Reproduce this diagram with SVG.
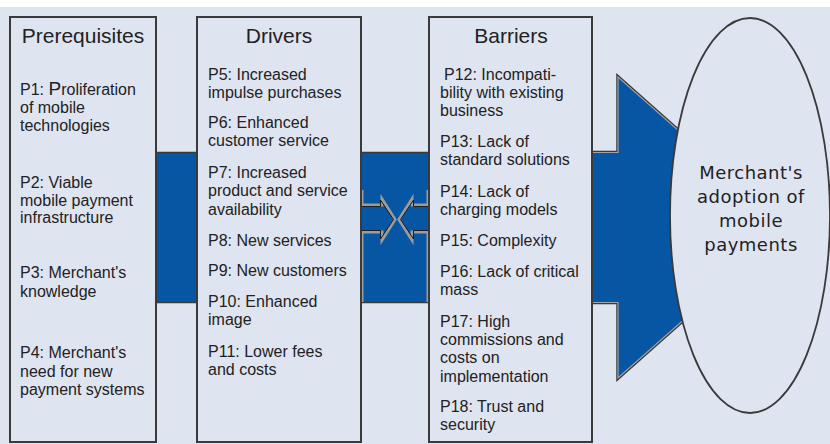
<svg xmlns="http://www.w3.org/2000/svg" width="830" height="444" viewBox="0 0 830 444">
  <style>
    .box { fill: #dfe4f1; stroke: #3a3a3a; stroke-width: 2; }
    .band { fill: #0756a3; stroke: #3a3a3a; stroke-width: 1.5; }
    .title { font-family: "Liberation Sans", Arial, sans-serif; font-size: 21px; fill: #222; text-anchor: middle; }
    .item { font-family: "Liberation Sans", Arial, sans-serif; font-size: 16px; fill: #222; }
    .big { font-size: 19px; }
    .goal { font-family: "DejaVu Sans", Verdana, sans-serif; font-size: 18px; fill: #222; text-anchor: middle; letter-spacing: 0.5px; }
    .notch { fill: none; stroke: #9c9c9c; stroke-width: 3; stroke-linejoin: miter; }
    .notchline { fill: none; stroke: #1e1e1e; stroke-width: 1; }
  </style>

  <!-- page background -->
  <rect x="0" y="0" width="830" height="444" fill="#dfe4f1"/>
  <rect x="0" y="0" width="830" height="7" fill="#ffffff"/>

  <!-- connectors: blue bands linking the columns -->
  <g id="connectors">
    <rect class="band" x="150" y="152.5" width="52" height="150"/>
    <rect class="band" x="355" y="152.5" width="80" height="150"/>
    <!-- opposing arrows inside the drivers/barriers band -->
    <polyline class="notch" points="362,190 362,205 382,205 382,199 395,219.5 382,240 382,232 362,232 362,302"/>
    <polyline class="notchline" points="361,206.5 380.5,206.5 380.5,200 393.5,219.5 380.5,239 380.5,230.5 361,230.5"/>
    <polyline class="notch" points="428,190 428,205 412,205 412,199 399,219.5 412,240 412,232 428,232 428,302"/>
    <polyline class="notchline" points="429,206.5 413.5,206.5 413.5,200 400.5,219.5 413.5,239 413.5,230.5 429,230.5"/>
    <!-- big arrow into the outcome -->
    <polygon points="586,152.5 618,152.5 618,77 788,227.5 618,378 618,302.5 586,302.5" fill="#0756a3" stroke="#3a3a3a" stroke-width="3.5" stroke-linejoin="miter"/>
    <polygon points="586,152.5 618,152.5 618,77 788,227.5 618,378 618,302.5 586,302.5" fill="#0756a3" stroke="#a3a3a3" stroke-width="1.2" stroke-linejoin="miter"/>
  </g>

  <g id="prerequisites">
    <rect class="box" x="10" y="17" width="146" height="425"/>
    <text class="title" x="83" y="43">Prerequisites</text>
    <text class="item" x="20" y="95">P1: <tspan class="big">P</tspan>roliferation</text>
    <text class="item" x="20" y="113">of mobile</text>
    <text class="item" x="20" y="131">technologies</text>
    <text class="item" x="20" y="188">P2: Viable</text>
    <text class="item" x="20" y="206">mobile payment</text>
    <text class="item" x="20" y="223">infrastructure</text>
    <text class="item" x="20" y="278">P3: Merchant's</text>
    <text class="item" x="20" y="297">knowledge</text>
    <text class="item" x="20" y="358">P4: Merchant's</text>
    <text class="item" x="20" y="377">need for new</text>
    <text class="item" x="20" y="395">payment systems</text>
  </g>

  <g id="drivers">
    <rect class="box" x="197" y="17" width="164" height="425"/>
    <text class="title" x="279" y="43">Drivers</text>
    <text class="item" x="208" y="80">P5: Increased</text>
    <text class="item" x="208" y="98">impulse purchases</text>
    <text class="item" x="208" y="128">P6: Enhanced</text>
    <text class="item" x="208" y="146">customer service</text>
    <text class="item" x="208" y="178">P7: Increased</text>
    <text class="item" x="208" y="196">product and service</text>
    <text class="item" x="208" y="215">availability</text>
    <text class="item" x="208" y="246">P8: New services</text>
    <text class="item" x="208" y="276">P9: New customers</text>
    <text class="item" x="208" y="307">P10: Enhanced</text>
    <text class="item" x="208" y="325">image</text>
    <text class="item" x="208" y="357">P11: Lower fees</text>
    <text class="item" x="208" y="375">and costs</text>
  </g>

  <g id="barriers">
    <rect class="box" x="429" y="17" width="163" height="425"/>
    <text class="title" x="511" y="43">Barriers</text>
    <text class="item" x="444" y="80">P12: Incompati-</text>
    <text class="item" x="440" y="98">bility with existing</text>
    <text class="item" x="440" y="116">business</text>
    <text class="item" x="440" y="147">P13: Lack of</text>
    <text class="item" x="440" y="165">standard solutions</text>
    <text class="item" x="440" y="197">P14: Lack of</text>
    <text class="item" x="440" y="215">charging models</text>
    <text class="item" x="440" y="246">P15: Complexity</text>
    <text class="item" x="440" y="277">P16: Lack of critical</text>
    <text class="item" x="440" y="295">mass</text>
    <text class="item" x="440" y="327">P17: High</text>
    <text class="item" x="440" y="345">commissions and</text>
    <text class="item" x="440" y="363">costs on</text>
    <text class="item" x="440" y="382">implementation</text>
    <text class="item" x="440" y="412">P18: Trust and</text>
    <text class="item" x="440" y="430">security</text>
  </g>

  <g id="adoption">
    <ellipse cx="750" cy="215.5" rx="80" ry="197.5" fill="#dfe4f1" stroke="#3a3a3a" stroke-width="1.8"/>
    <text class="goal" x="751" y="179">Merchant's</text>
    <text class="goal" x="751" y="203">adoption of</text>
    <text class="goal" x="751" y="227">mobile</text>
    <text class="goal" x="751" y="251">payments</text>
  </g>
</svg>
